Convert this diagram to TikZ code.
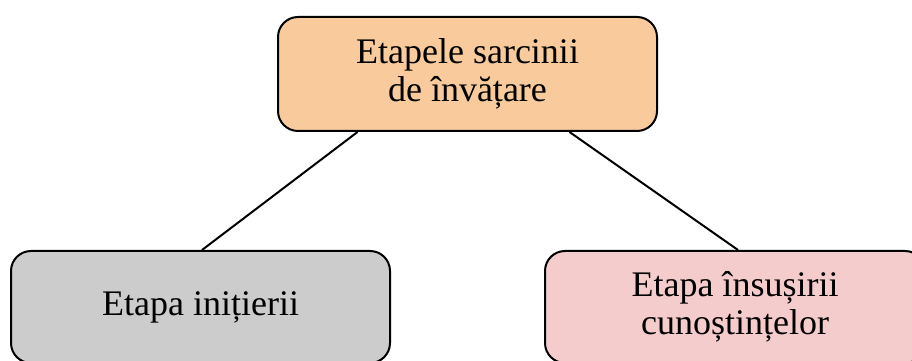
\documentclass[tikz,border=0pt]{standalone}
\usepackage{fontspec}
\setmainfont{Liberation Serif}
\usetikzlibrary{calc}
\definecolor{topfill}{RGB}{249,203,156}
\definecolor{leftfill}{RGB}{204,204,204}
\definecolor{rightfill}{RGB}{244,204,204}
\tikzset{
  etapa/.style={draw=black, line width=2pt, rounded corners=20pt, inner sep=0pt,
    minimum width=379pt, align=center,
    font=\fontsize{36}{38}\selectfont},
  legatura/.style={line width=2pt}
}

\begin{document}
\begin{tikzpicture}[x=1pt,y=1pt]
				%%%%% START %%%%%
				\useasboundingbox (0,0) rectangle (912,361);
				\clip (0,0) rectangle (912,361);

				\node[etapa, fill=topfill, minimum height=114pt] (sarcina) at (467.5,287) {Etapele sarcinii\\de învățare};
				\node[etapa, fill=leftfill, minimum height=112pt] (initiere) at (200.5,54) {Etapa inițierii};
				\node[etapa, fill=rightfill, minimum height=112pt, minimum width=380pt] (insusire) at (735,54) {Etapa însușirii\\cunoștințelor};

				\draw[legatura] ([xshift=-110pt]sarcina.south) -- ([xshift=1.5pt]initiere.north);
				\draw[legatura] ([xshift=102pt]sarcina.south) -- ([xshift=3pt]insusire.north);
				%%%%% START %%%%%
\end{tikzpicture}
\end{document}
